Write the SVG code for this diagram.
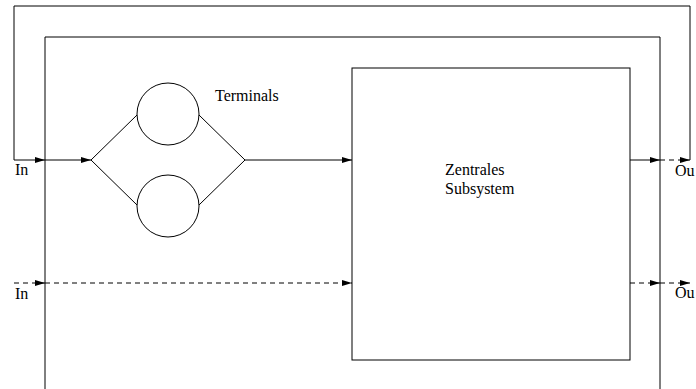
<svg xmlns="http://www.w3.org/2000/svg" width="696" height="389" viewBox="0 0 696 389">
<style>
.s{fill:none;stroke:#000;stroke-width:1}
.d{fill:none;stroke:#000;stroke-width:1;stroke-dasharray:5 4}
.a{marker-end:url(#arr)}
text{font-family:"Liberation Serif","Times New Roman",serif;font-size:16px;fill:#000}
</style>
<defs>
<marker id="arr" markerUnits="userSpaceOnUse" markerWidth="10" markerHeight="6" refX="10" refY="3" orient="auto">
<path d="M0,0 L10,3 L0,6 z" fill="#000"/>
</marker>
</defs>
<rect width="696" height="389" fill="#fff"/>
<g id="system">
<path class="s" d="M45,389 V37 H660 V389"/>
</g>
<g id="terminal1">
<circle class="s" cx="168" cy="114" r="31"/>
</g>
<g id="terminal2">
<circle class="s" cx="168" cy="206" r="31"/>
</g>
<g id="terminals-label">
<text x="215" y="101">Terminals</text>
</g>
<g id="subsystem">
<rect class="s" x="352" y="68" width="278" height="292"/>
<text x="445" y="175">Zentrales</text>
<text x="445" y="194">Subsystem</text>
</g>
<g id="io-labels">
<text x="15" y="175">In</text>
<text x="15" y="299">In</text>
<text x="675" y="176">Ou</text>
<text x="675" y="298">Ou</text>
</g>
<g id="connectors">
<path class="s a" d="M690,160 V6 H14 V160 H45"/>
<line class="s a" x1="45" y1="160" x2="91" y2="160"/>
<polyline class="s" points="137,115 91,160 137,205"/>
<polyline class="s" points="199,115 245,160 199,205"/>
<line class="s a" x1="245" y1="160" x2="352" y2="160"/>
<line class="s a" x1="630" y1="160" x2="660" y2="160"/>
<line class="d a" x1="660" y1="160" x2="690" y2="160"/>
<line class="d a" x1="14" y1="283" x2="45" y2="283"/>
<line class="d a" x1="45" y1="283" x2="352" y2="283"/>
<line class="d a" x1="630" y1="283" x2="660" y2="283"/>
<line class="d a" x1="660" y1="283" x2="690" y2="283"/>
</g>
</svg>
